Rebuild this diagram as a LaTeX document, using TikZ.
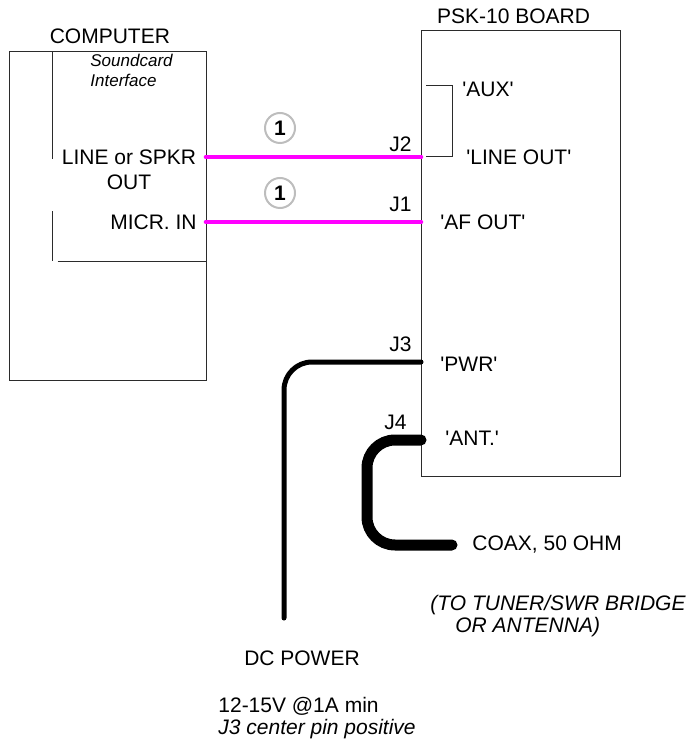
\documentclass[tikz,border=0pt]{standalone}
\usepackage{fontspec}
\setmainfont{Liberation Sans}
\usetikzlibrary{positioning, calc}
\definecolor{boxink}{HTML}{2B2B2B}
\definecolor{wireink}{HTML}{000000}
\definecolor{audiomag}{HTML}{FF00FF}
\definecolor{tagring}{HTML}{BDBDBD}
\newcommand{\qt}[1]{\textquotesingle#1\textquotesingle}

\begin{document}
\begin{tikzpicture}[
  x=0.5pt, y=-0.5pt,
  font=\fontsize{10.5}{12.6}\selectfont,
  box/.style={rectangle, draw=boxink, line width=0.5pt, inner sep=0pt},
  frame/.style={draw=boxink, line width=0.5pt},
  lbl/.style={inner sep=0pt},
  note/.style={inner sep=0pt, align=left, font=\fontsize{8.5}{10}\selectfont\itshape},
  audio/.style={draw=audiomag, line width=2.3pt, line cap=round},
  pwr/.style={draw=wireink, line width=2.5pt, line cap=round, rounded corners=14pt},
  coax/.style={draw=wireink, line width=5.5pt, line cap=round, rounded corners=14pt},
  tag/.style={circle, draw=tagring, line width=1pt, minimum size=15pt, inner sep=0pt,
              font=\fontsize{10.5}{12.6}\selectfont\bfseries}
]
\useasboundingbox (0,0) rectangle (687,742);

% the two boxes
\node[box, minimum width=98.5pt, minimum height=164pt] (comp) at (107.5,216) {};
\node[box, minimum width=99.5pt, minimum height=222.5pt] (psk) at (520.5,253.5) {};
\node[lbl, above=3.5pt of comp, xshift=1.2pt] (comptitle) {COMPUTER};
\node[lbl, above=3pt of psk, xshift=-3.5pt] (psktitle) {PSK-10 BOARD};

% leftover frame lines inside the computer
\draw[frame] ([xshift=22pt]comp.north west) -- ++(0,108);
\draw[frame] ([xshift=22pt, yshift=-80pt]comp.north west) -- ++(0,50);
\draw[frame] ([xshift=24.5pt, yshift=-105pt]comp.north west) -- ([yshift=-105pt]comp.north east);

% computer side
\node[note, anchor=north west] (sndcard) at (90,54) {Soundcard\\Interface};
\node[lbl, align=center] (lineout) at (129,170) {LINE or SPKR\\OUT};
\node[lbl, anchor=east] (micin) at (197,222) {MICR. IN};

% ports
\coordinate (spkr) at (206,157);
\coordinate (j2) at (421,157);
\coordinate (mic) at (206,222);
\coordinate (j1) at (421,222);
\coordinate (j3) at (421,362);
\coordinate (j4) at (421,440);
\coordinate (dcend) at (284,618);
\coordinate (coaxbend) at (367,545);
\coordinate (coaxend) at (452,545);

% board side
\draw[frame] ([xshift=2.5pt]j2) -- ++(26,0) |- ([xshift=2.5pt]j2 |- 0,86);
\node[lbl, anchor=west] (aux) at (462,89) {\qt{AUX}};
\node[lbl, anchor=west] (lout) at (466,157) {\qt{LINE OUT}};
\node[lbl, anchor=west] (afout) at (440,222) {\qt{AF OUT}};
\node[lbl, anchor=west] (pwr) at (440,364) {\qt{PWR}};
\node[lbl, anchor=west] (ant) at (445,438) {\qt{ANT.}};

\node[lbl, above left=2.5pt and 4.5pt of j2] {J2};
\node[lbl, above left=5pt and 4.5pt of j1] {J1};
\node[lbl, above left=5pt and 4.5pt of j3] {J3};
\node[lbl, above left=5pt and 7pt of j4] {J4};

% cables
\draw[audio] (spkr) -- (j2);
\draw[audio] (mic) -- (j1);
\node[tag] (tagtop) at (280,128) {1};
\node[tag] (tagbot) at (280,193) {1};
\draw[pwr] (j3) -| (dcend);
\draw[coax] (j4) -| (coaxbend) -- (coaxend);

% notes below
\node[lbl, anchor=west, right=10pt of coaxend] (coaxlbl) {COAX, 50 OHM};
\node[lbl, anchor=west, align=left, font=\fontsize{10.5}{12.6}\selectfont\itshape] (tuner) at (430,616)
  {(TO TUNER/SWR BRIDGE\\[-1.6pt]\hspace*{12.5pt}OR ANTENNA)};
\node[lbl] (dcpwr) at (302,658) {DC POWER};
\node[lbl, anchor=west, align=left] (dcspec) at (218,718)
  {12-15V @1A min\\[-2pt]\textit{J3 center pin positive}};

\end{tikzpicture}
\end{document}
